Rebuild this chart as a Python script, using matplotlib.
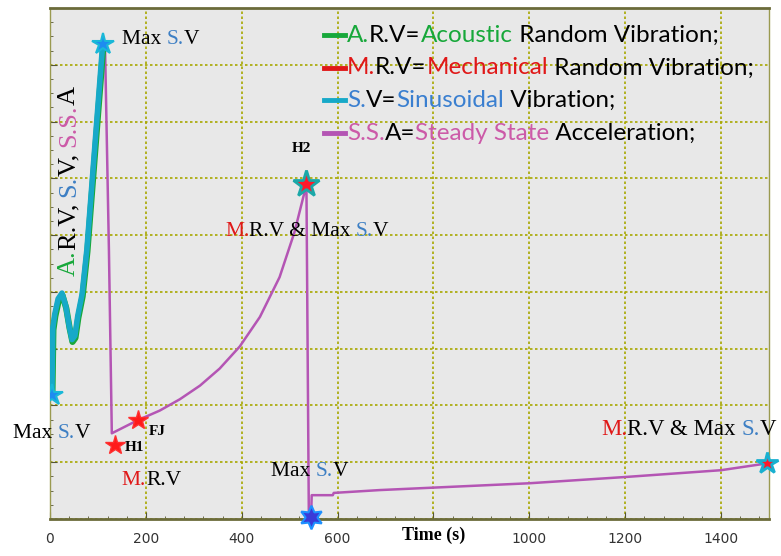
import numpy as np
import matplotlib.pyplot as plt
from matplotlib.ticker import MultipleLocator

# values (time in s, response in grid units)
rise_t = [4, 6, 10, 17, 25, 33, 40, 46, 52, 58, 67, 77, 110]
rise_y = [2.19, 3.37, 3.61, 3.88, 3.98, 3.75, 3.40, 3.16, 3.23, 3.58, 3.96, 4.75, 8.37]
arv_t = [5, 7, 11, 18, 26, 34, 41, 47, 53, 59, 68, 78, 111]
arv_y = [2.19, 3.33, 3.57, 3.84, 3.94, 3.71, 3.36, 3.12, 3.19, 3.54, 3.92, 4.71, 8.30]
ssa_t = [4, 6, 10, 17, 25, 33, 40, 46, 52, 58, 67, 77, 110, 115, 123, 129, 183, 229, 271, 313,
         354, 396, 438, 479, 510, 535, 540, 545, 546, 590, 592, 688, 1000, 1200, 1400, 1496]
ssa_y = [2.19, 3.37, 3.61, 3.88, 3.98, 3.75, 3.40, 3.16, 3.23, 3.58, 3.96, 4.75, 8.37, 8.25, 4.72, 1.51,
         1.74, 1.91, 2.11, 2.35, 2.65, 3.04, 3.56, 4.26, 5.05, 5.89, 0.1, 0.1, 0.42, 0.42, 0.46,
         0.51, 0.63, 0.74, 0.86, 0.98]

sv_star_t, sv_star_y = [4, 110], [2.19, 8.37]
red_star_t, red_star_y = [135, 184], [1.30, 1.74]
h2_t, h2_y = 535, 5.9
end_t, end_y = 1496, 0.98
hex_t, hex_y = 544, 0.03

xticks = [0, 200, 400, 600, 800, 1000, 1200, 1400]
xtick_labels = ['0', '200', '400', '600', '', '1000', '1200', '1400']

GREEN = '#17a83a'
RED = '#e01818'
CYAN = '#17a9c8'
MAG = '#b455b4'
BLUE = '#3a7fd0'
PINK = '#cc5aa8'
TXT_BLUE = '#3d7fc4'


def pieces_text(ax, x, y, pieces, coords='data', rotation=0, **kw):
    # draw a string made of differently coloured parts, one after the other
    first, col = pieces[0]
    if rotation == 0:
        t = ax.annotate(first, (x, y), xycoords=coords, color=col, ha='left', va='center',
                        annotation_clip=False, **kw)
        for s, col in pieces[1:]:
            t = ax.annotate(s, (1, 0.5), xycoords=t, color=col, ha='left', va='center', **kw)
    else:
        t = ax.annotate(first, (x, y), xycoords=coords, color=col, ha='center', va='bottom',
                        rotation=90, annotation_clip=False, **kw)
        for s, col in pieces[1:]:
            t = ax.annotate(s, (0.5, 1), xycoords=t, color=col, ha='center', va='bottom',
                            rotation=90, **kw)


fig = plt.figure(figsize=(7.81, 5.56), dpi=100)
ax = fig.add_axes([0.064, 0.0665, 0.9206, 0.919])
ax.set_facecolor('#e8e8e8')

ax.plot(ssa_t, ssa_y, color=MAG, lw=1.8, zorder=3)
ax.plot(arv_t, arv_y, color=GREEN, lw=4.5, zorder=4, solid_capstyle='round')
ax.plot(rise_t, rise_y, color=CYAN, lw=4.0, zorder=5, solid_capstyle='round')

ax.plot(sv_star_t, sv_star_y, ls='none', marker='*', ms=16, mfc='#1e8cf0', mec='#19b8d8', mew=1.5, zorder=6)
ax.plot(red_star_t, red_star_y, ls='none', marker='*', ms=15, mfc='#ff1a1a', mec='#ff3030', zorder=6)
ax.plot(h2_t, h2_y, ls='none', marker='*', ms=20, mfc='#ff1a2a', mec='#1aa8a8', mew=2, zorder=6)
ax.plot(end_t, end_y, ls='none', marker='*', ms=16, mfc='#ff1a2a', mec='#19b0d0', mew=2, zorder=6, clip_on=False)
ax.plot(hex_t, hex_y, ls='none', marker=(6, 1, 0), ms=17, mfc='#3a3ad8', mec='#1e90ff', mew=1.5, zorder=6, clip_on=False)

ax.set_xlim(0, 1500)
ax.set_ylim(0, 9)
ax.set_xticks(xticks)
ax.set_xticklabels(xtick_labels, family=['Liberation Sans Narrow', 'DejaVu Sans'], fontsize=10, color='#333333')
ax.xaxis.set_minor_locator(MultipleLocator(40))
ax.yaxis.set_major_locator(MultipleLocator(1))
ax.yaxis.set_minor_locator(MultipleLocator(0.25))
ax.set_yticklabels([])
ax.tick_params(which='both', direction='in', colors='#555533', top=False, right=False)
ax.tick_params(which='major', length=5)
ax.tick_params(which='minor', length=2.5)
ax.tick_params(axis='x', which='major', pad=9, labelcolor='#333333')
ax.grid(True, which='major', color='#a8a800', ls=(0, (1.5, 1.5)), lw=1.2)
for side in ['top', 'bottom']:
    ax.spines[side].set_color('#6b6b3a')
    ax.spines[side].set_linewidth(2)
for side in ['left', 'right']:
    ax.spines[side].set_color('#9a9a50')
    ax.spines[side].set_linewidth(1)

ax.annotate('Time (s)', (800, -0.031), xycoords=('data', 'axes fraction'), ha='center', va='center',
            family='Liberation Serif', weight='bold', fontsize=13, annotation_clip=False)

serif = dict(family='Liberation Serif', fontsize=15.5)
pieces_text(ax, 150, 8.44, [('Max ', 'black'), ('S.', TXT_BLUE), ('V', 'black')], **serif)
pieces_text(ax, -77, 1.51, [('Max ', 'black'), ('S.', TXT_BLUE), ('V', 'black')], **serif)
pieces_text(ax, 462, 0.84, [('Max ', 'black'), ('S.', TXT_BLUE), ('V', 'black')], **serif)
pieces_text(ax, 365, 5.07, [('M.', RED), ('R.V & Max ', 'black'), ('S.', TXT_BLUE), ('V', 'black')], **serif)
pieces_text(ax, 1150, 1.58, [('M.', RED), ('R.V & Max ', 'black'), ('S.', TXT_BLUE), ('V', 'black')],
            family='Liberation Serif', fontsize=16.5)
pieces_text(ax, 150, 0.68, [('M.', RED), ('R.V', 'black')], **serif)
pieces_text(ax, 40, 4.28, [('A.', GREEN), ('R.V, ', 'black'), ('S.', TXT_BLUE), ('V, ', 'black'),
                           ('S.S.', PINK), ('A', 'black')], rotation=90,
            family='Liberation Serif', fontsize=19)

bold = dict(family='Liberation Serif', fontsize=11, weight='bold', ha='center', va='center')
ax.text(525, 6.53, 'H2', **bold)
ax.text(177, 1.26, 'H1', **bold)
ax.text(223, 1.54, 'FJ', **bold)

# legend built by hand, the texts have several colours
rows = [
    (GREEN, [('A.', GREEN), ('R.V=', 'black'), ('Acoustic', GREEN), (' Random Vibration;', 'black')]),
    (RED, [('M.', RED), ('R.V=', 'black'), ('Mechanical', RED), (' Random Vibration;', 'black')]),
    (CYAN, [('S.', BLUE), ('V=', 'black'), ('Sinusoidal', BLUE), (' Vibration;', 'black')]),
    (MAG, [('S.S.', PINK), ('A=', 'black'), ('Steady State', PINK), (' Acceleration;', 'black')]),
]
ys = [0.947, 0.883, 0.820, 0.755]
for (lc, parts), yy in zip(rows, ys):
    ax.plot([0.381, 0.411], [yy, yy], color=lc, lw=3.5, transform=ax.transAxes, zorder=7)
    pieces_text(ax, 0.413, yy, parts, coords='axes fraction', family='Lato', fontsize=17.5)

fig.savefig('out.png', dpi=100)
